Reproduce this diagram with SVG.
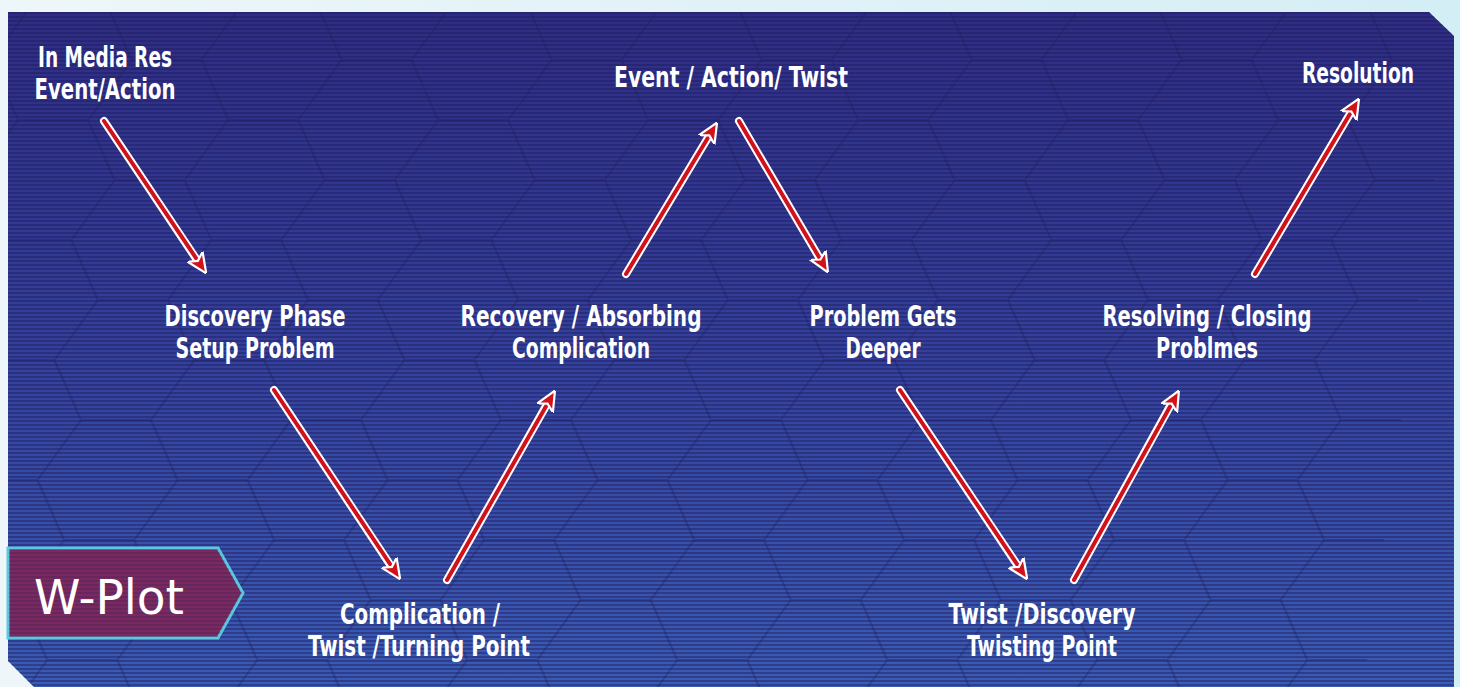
<svg xmlns="http://www.w3.org/2000/svg" width="1460" height="687" viewBox="0 0 1460 687">
<defs>
<linearGradient id="bgOut" x1="0" y1="0" x2="1" y2="0">
<stop offset="0" stop-color="#eef6f9"/><stop offset="1" stop-color="#d4eef5"/>
</linearGradient>
<linearGradient id="panel" x1="0" y1="0" x2="0" y2="1">
<stop offset="0" stop-color="#2e2c82"/><stop offset="0.5" stop-color="#33409a"/><stop offset="1" stop-color="#3a5cb4"/>
</linearGradient>
<pattern id="stripes" width="8" height="4" patternUnits="userSpaceOnUse">
<rect width="8" height="2" fill="#1e1a5e" opacity="0.45"/>
</pattern>
<pattern id="hex" width="210" height="120" patternUnits="userSpaceOnUse">
<path d="M0 60 L35 0 M35 0 L105 0 L140 60 L105 120 M140 60 L210 60 M0 60 L35 120 L105 120" fill="none" stroke="#1c1a55" stroke-width="2" opacity="0.35"/>
</pattern>
<clipPath id="pc"><path d="M8 12 H1429 L1454 36 V687 H34 L8 661 Z"/></clipPath>
<marker id="ah" viewBox="0 0 10 10" refX="8" refY="5" markerWidth="5" markerHeight="5" orient="auto" markerUnits="strokeWidth">
<path d="M0 0.5 L10 5 L0 9.5 L2.5 5 Z" fill="#d0121b" stroke="#ffffff" stroke-width="1.1" stroke-linejoin="miter"/>
</marker>
<style>
.lbl{font-family:"Liberation Sans Narrow","DejaVu Sans Condensed","Liberation Sans",sans-serif;font-weight:bold;font-size:28px;fill:#ffffff;text-anchor:middle}
.halo{fill:none;stroke:#ffffff;stroke-width:8;stroke-linecap:round}
.ln{fill:none;stroke:#d0121b;stroke-width:4;stroke-linecap:round}
</style>
</defs>
<rect width="1460" height="687" fill="url(#bgOut)"/>
<g clip-path="url(#pc)">
<rect width="1460" height="687" fill="url(#panel)"/>
<rect width="1460" height="687" fill="url(#hex)" transform="skewX(-8)"/>
<rect width="1460" height="687" fill="url(#stripes)"/>
</g>
<g id="badge">
<path d="M8 548 H218 L243 593 L218 638 H8 Z" fill="#7a2a5e" stroke="#5cc8e0" stroke-width="3"/>
<path d="M9 549 H218 L242 593 L218 637 H9 Z" fill="url(#stripes)" opacity="0.5"/>
<text x="34" y="614" style="font-family:'DejaVu Sans','Liberation Sans',sans-serif;font-size:48px;fill:#ffffff;font-weight:normal" textLength="150" lengthAdjust="spacingAndGlyphs">W-Plot</text>
</g>
<g id="connectors">
<g class="halos">
<line class="halo" x1="104" y1="121" x2="201" y2="266"/>
<line class="halo" x1="274" y1="390" x2="395" y2="572"/>
<line class="halo" x1="447" y1="580" x2="550" y2="399"/>
<line class="halo" x1="626" y1="274" x2="712" y2="131"/>
<line class="halo" x1="739" y1="121" x2="823" y2="264"/>
<line class="halo" x1="900" y1="390" x2="1022" y2="572"/>
<line class="halo" x1="1074" y1="580" x2="1174" y2="399"/>
<line class="halo" x1="1255" y1="274" x2="1354" y2="107"/>
</g>
<line class="ln" x1="104" y1="121" x2="204" y2="270" marker-end="url(#ah)"/>
<line class="ln" x1="274" y1="390" x2="398" y2="576" marker-end="url(#ah)"/>
<line class="ln" x1="447" y1="580" x2="553" y2="394" marker-end="url(#ah)"/>
<line class="ln" x1="626" y1="274" x2="715" y2="126" marker-end="url(#ah)"/>
<line class="ln" x1="739" y1="121" x2="826" y2="269" marker-end="url(#ah)"/>
<line class="ln" x1="900" y1="390" x2="1025" y2="576" marker-end="url(#ah)"/>
<line class="ln" x1="1074" y1="580" x2="1177" y2="394" marker-end="url(#ah)"/>
<line class="ln" x1="1255" y1="274" x2="1357" y2="102" marker-end="url(#ah)"/>
</g>
<g id="n-start"><text class="lbl" x="105" y="67" textLength="134" lengthAdjust="spacingAndGlyphs">In Media Res</text><text class="lbl" x="105" y="99" textLength="141" lengthAdjust="spacingAndGlyphs">Event/Action</text></g>
<g id="n-peak"><text class="lbl" x="731" y="87" textLength="234" lengthAdjust="spacingAndGlyphs">Event / Action/ Twist</text></g>
<g id="n-resolution"><text class="lbl" x="1358" y="83" textLength="112" lengthAdjust="spacingAndGlyphs">Resolution</text></g>
<g id="n-discovery"><text class="lbl" x="255" y="326" textLength="181" lengthAdjust="spacingAndGlyphs">Discovery Phase</text><text class="lbl" x="255" y="358" textLength="159" lengthAdjust="spacingAndGlyphs">Setup Problem</text></g>
<g id="n-recovery"><text class="lbl" x="581" y="326" textLength="241" lengthAdjust="spacingAndGlyphs">Recovery / Absorbing</text><text class="lbl" x="581" y="358" textLength="138" lengthAdjust="spacingAndGlyphs">Complication</text></g>
<g id="n-deeper"><text class="lbl" x="883" y="326" textLength="147" lengthAdjust="spacingAndGlyphs">Problem Gets</text><text class="lbl" x="883" y="358" textLength="75" lengthAdjust="spacingAndGlyphs">Deeper</text></g>
<g id="n-resolving"><text class="lbl" x="1207" y="326" textLength="209" lengthAdjust="spacingAndGlyphs">Resolving / Closing</text><text class="lbl" x="1207" y="358" textLength="102" lengthAdjust="spacingAndGlyphs">Problmes</text></g>
<g id="n-complication"><text class="lbl" x="420" y="624" textLength="160" lengthAdjust="spacingAndGlyphs">Complication /</text><text class="lbl" x="419" y="656" textLength="222" lengthAdjust="spacingAndGlyphs">Twist /Turning Point</text></g>
<g id="n-twist"><text class="lbl" x="1042" y="624" textLength="187" lengthAdjust="spacingAndGlyphs">Twist /Discovery</text><text class="lbl" x="1042" y="656" textLength="150" lengthAdjust="spacingAndGlyphs">Twisting Point</text></g>
</svg>
